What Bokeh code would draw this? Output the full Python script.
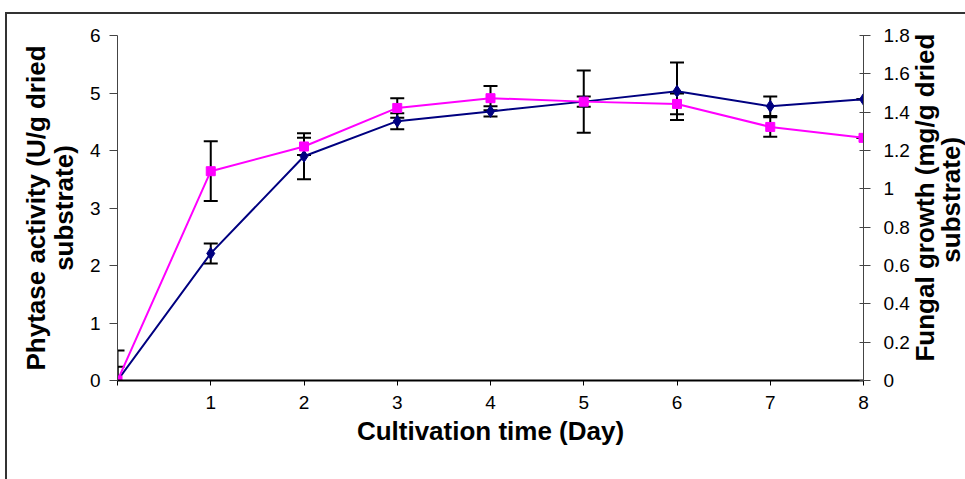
import math
from bokeh.plotting import figure
from bokeh.models import (Range1d, LinearAxis, FixedTicker, Whisker, TeeHead, ColumnDataSource,
                          Legend, LegendItem, CustomJSTickFormatter)
from bokeh.embed import file_html
from bokeh.resources import INLINE

days = [0, 1, 2, 3, 4, 5, 6, 7, 8]
phytase = [0.0, 3.64, 4.07, 4.74, 4.91, 4.85, 4.81, 4.41, 4.22]
phytase_err = [0.52, 0.52, 0.15, 0.17, 0.21, 0.54, 0.18, 0.17, 0.0]
fungal = [0.0, 0.663, 1.17, 1.353, 1.404, 1.455, 1.509, 1.431, 1.467]
fungal_err = [0.072, 0.052, 0.12, 0.042, 0.027, 0.027, 0.15, 0.051, 0.0]
x_ticks = [0, 1, 2, 3, 4, 5, 6, 7, 8]
left_ticks = [0, 1, 2, 3, 4, 5, 6]
right_ticks = [0, 0.2, 0.4, 0.6, 0.8, 1.0, 1.2, 1.4, 1.6, 1.8]
left_title = ["Phytase activity (U/g dried", "substrate)"]
right_title = ["Fungal growth (mg/g dried", "substrate)"]
x_title = "Cultivation time (Day)"
# where the rotated right-hand title lines start (in left-axis units)
right_title_start = [0.33, 2.05]

NAVY = "#000080"
MAGENTA = "#FF00FF"
FONT = "Liberation Sans"

p = figure(frame_width=746, frame_height=345, min_border_left=110, min_border_top=21,
           min_border_right=102, min_border_bottom=0,
           x_range=Range1d(0, 8), y_range=Range1d(0, 6),
           output_backend="svg", toolbar_location=None, y_axis_location=None, x_axis_location=None)
p.extra_y_ranges = {"right": Range1d(0, 1.8)}
p.outline_line_color = None
p.grid.visible = False
p.border_fill_color = "white"
p.styles = {"margin-left": "5px", "margin-top": "12px",
            "border-top": "2px solid #333", "border-left": "2px solid #333"}

src = ColumnDataSource(dict(
    x=days, ph=phytase, ph_lo=[a - b for a, b in zip(phytase, phytase_err)],
    ph_hi=[a + b for a, b in zip(phytase, phytase_err)],
    fg=fungal, fg_lo=[a - b for a, b in zip(fungal, fungal_err)],
    fg_hi=[a + b for a, b in zip(fungal, fungal_err)],
))

def style_axis(ax, tick_out, tick_in, standoff, label_standoff):
    ax.major_tick_out = tick_out
    ax.major_tick_in = tick_in
    ax.minor_tick_line_color = None
    ax.major_label_text_font = FONT
    ax.major_label_text_font_size = "19px"
    ax.major_label_text_color = "black"
    ax.major_label_standoff = standoff
    ax.axis_label_text_font = FONT
    ax.axis_label_text_font_size = "26px"
    ax.axis_label_text_font_style = "bold"
    ax.axis_label_text_color = "black"
    ax.axis_label_standoff = label_standoff

def title_axis(side, label=None, tick=None, tick_text=None, standoff=0):
    ax = LinearAxis(ticker=FixedTicker(ticks=[] if tick is None else [tick]))
    ax.axis_line_color = None
    ax.major_tick_line_color = None
    ax.major_tick_out = 0
    ax.major_tick_in = 0
    ax.minor_tick_line_color = None
    ax.major_label_text_font = FONT
    ax.major_label_text_font_size = "26px"
    ax.major_label_text_font_style = "bold"
    ax.major_label_text_color = "black"
    ax.axis_label_text_font = FONT
    ax.axis_label_text_font_size = "26px"
    ax.axis_label_text_font_style = "bold"
    ax.axis_label_text_color = "black"
    if label is not None:
        ax.axis_label = label
        ax.axis_label_standoff = standoff
    if tick is not None:
        ax.major_label_overrides = {tick: tick_text}
        ax.major_label_orientation = math.pi / 2
        ax.major_label_standoff = standoff
    p.add_layout(ax, side)
    return ax

xaxis = LinearAxis(ticker=FixedTicker(ticks=x_ticks), major_label_overrides={0: ""})
xaxis.axis_label = x_title
xaxis.axis_line_color = "black"
xaxis.axis_line_width = 2
xaxis.major_tick_line_color = "black"
style_axis(xaxis, 5, 0, 10, 4)
p.add_layout(xaxis, "below")

laxis = LinearAxis(ticker=FixedTicker(ticks=left_ticks))
laxis.axis_label = left_title[1]
laxis.axis_line_color = "#444444"
laxis.major_tick_line_color = "#444444"
style_axis(laxis, 8, 0, 9, 8)
p.add_layout(laxis, "left")
title_axis("left", label=left_title[0], standoff=-5)

raxis = LinearAxis(y_range_name="right", ticker=FixedTicker(ticks=right_ticks),
                   formatter=CustomJSTickFormatter(code="return String(Math.round(tick*10)/10)"))
raxis.axis_line_color = "#444444"
raxis.major_tick_line_color = "#444444"
style_axis(raxis, 7, 4, 13, 0)
p.add_layout(raxis, "right")
title_axis("right", tick=right_title_start[0], tick_text=right_title[0], standoff=13)
title_axis("right", tick=right_title_start[1], tick_text=right_title[1], standoff=-8)

for lo, hi, rng in (("ph_lo", "ph_hi", "default"), ("fg_lo", "fg_hi", "right")):
    w = Whisker(source=src, base="x", lower=lo, upper=hi, y_range_name=rng,
                line_color="black", line_width=2, level="underlay",
                upper_head=TeeHead(size=14, line_color="black", line_width=2),
                lower_head=TeeHead(size=14, line_color="black", line_width=2))
    p.add_layout(w)

fl = p.line("x", "fg", source=src, y_range_name="right", line_color=NAVY, line_width=2)
fm = p.scatter("x", "fg", source=src, y_range_name="right", marker="diamond", size=12,
               fill_color=NAVY, line_color=NAVY)
pl = p.line("x", "ph", source=src, line_color=MAGENTA, line_width=2)
pm = p.scatter("x", "ph", source=src, marker="square", size=9, fill_color=MAGENTA, line_color=MAGENTA)

legend = Legend(items=[LegendItem(label="Fungal growth", renderers=[fl, fm]),
                       LegendItem(label="Phytase activity", renderers=[pl, pm])],
                orientation="horizontal", nrows=1, location="top_center",
                label_text_font=FONT, label_text_font_size="25px", label_text_color="black",
                glyph_width=50, glyph_height=20, label_height=20, spacing=11, padding=0, margin=0,
                label_standoff=6, border_line_color=None, background_fill_alpha=0)
p.add_layout(legend, "below")

open("out.html", "w").write(file_html(p, INLINE))
